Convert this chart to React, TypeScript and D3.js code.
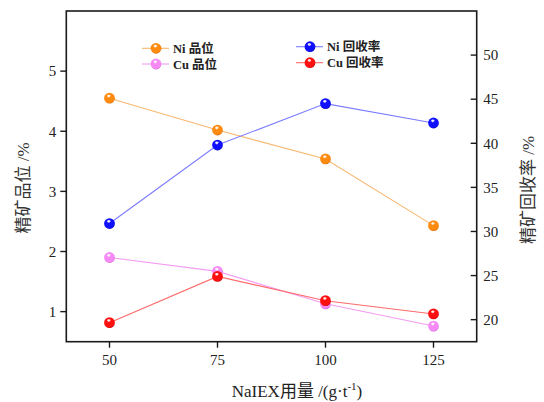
import React from "react";
import * as d3 from "d3";

const doses = [50, 75, 100, 125];
const niGrade = [4.55, 4.02, 3.54, 2.43];
const cuGrade = [1.9, 1.67, 1.13, 0.76];
const niRecovery = [30.9, 39.8, 44.5, 42.3];
const cuRecovery = [19.66, 24.9, 22.15, 20.65];
const leftTicks = [1, 2, 3, 4, 5];
const rightTicks = [20, 25, 30, 35, 40, 45, 50];

const W = 544, H = 402;
const M = { l: 66.3, r: 476.7, t: 11, b: 341.7 };
const FONT = '"Liberation Serif", "Noto Sans CJK SC", serif';

const x = d3.scaleLinear().domain([40, 135]).range([M.l, M.r]);
const yL = d3.scaleLinear().domain([0.5, 6]).range([M.b, M.t]);
const yR = d3.scaleLinear().domain([17.5, 55]).range([M.b, M.t]);

type Series = { name: string; vals: number[]; y: d3.ScaleLinear<number, number>; color: string; dark: string; line: string; id: string };

const series: Series[] = [
  { name: "Ni 品位", vals: niGrade, y: yL, color: "#ff8a10", dark: "#c05a00", line: "#f7b870", id: "g-or" },
  { name: "Cu 品位", vals: cuGrade, y: yL, color: "#f58af5", dark: "#c050c8", line: "#f39cf3", id: "g-pk" },
  { name: "Ni 回收率", vals: niRecovery, y: yR, color: "#1010ff", dark: "#00008a", line: "#7b7bff", id: "g-bl" },
  { name: "Cu 回收率", vals: cuRecovery, y: yR, color: "#ff1010", dark: "#a00000", line: "#ff6b6b", id: "g-rd" },
];

const legendPos = [
  { x1: 142, x2: 169, cx: 156, tx: 173, y: 48.3 },
  { x1: 142, x2: 169, cx: 156, tx: 173, y: 64 },
  { x1: 296, x2: 323, cx: 310, tx: 327, y: 46.7 },
  { x1: 296, x2: 323, cx: 310, tx: 327, y: 62.7 },
];

const R = 5.4;

function Ball({ cx, cy, s }: { cx: number; cy: number; s: Series }) {
  return (
    <g>
      <circle cx={cx} cy={cy} r={R} fill={`url(#${s.id})`} />
      <ellipse cx={cx - 0.6} cy={cy - 2.4} rx={1.8} ry={1.1} fill="#fff" opacity={0.75} />
    </g>
  );
}

export default function App() {
  const line = (s: Series) =>
    d3.line<number>().x((_, i) => x(doses[i])).y((v) => s.y(v))(s.vals) || "";
  return (
    <svg width={W} height={H} fontFamily={FONT} style={{ position: "absolute", left: 0, top: 0, background: "#fff" }}>
      <defs>
        {series.map((s) => (
          <radialGradient key={s.id} id={s.id} cx="0.45" cy="0.4" r="0.65" fx="0.42" fy="0.3">
            <stop offset="0" stopColor="#ffffff" stopOpacity={0.9} />
            <stop offset="0.25" stopColor={s.color} />
            <stop offset="0.8" stopColor={s.color} />
            <stop offset="1" stopColor={s.dark} />
          </radialGradient>
        ))}
      </defs>
      <rect x={0} y={0} width={W} height={H} fill="#fff" />

      {series.map((s) => (
        <path key={s.id} d={line(s)} fill="none" stroke={s.line} strokeWidth={1.1} />
      ))}
      {series.map((s) =>
        s.vals.map((v, i) => <Ball key={s.id + i} cx={x(doses[i])} cy={s.y(v)} s={s} />)
      )}

      <rect x={M.l} y={M.t} width={M.r - M.l} height={M.b - M.t} fill="none" stroke="#1a1a1a" strokeWidth={1.6} />

      {leftTicks.map((t) => (
        <g key={"l" + t}>
          <line x1={M.l - 6} x2={M.l} y1={yL(t)} y2={yL(t)} stroke="#1a1a1a" strokeWidth={1.4} />
          <text x={M.l - 10} y={yL(t)} dy="0.35em" textAnchor="end" fontSize={15} fill="#222">{t}</text>
        </g>
      ))}
      {rightTicks.map((t) => (
        <g key={"r" + t}>
          <line x1={M.r - 6} x2={M.r} y1={yR(t)} y2={yR(t)} stroke="#1a1a1a" strokeWidth={1.4} />
          <text x={M.r + 6.5} y={yR(t)} dy="0.35em" textAnchor="start" fontSize={15} fill="#222">{t}</text>
        </g>
      ))}
      {doses.map((t) => (
        <g key={"b" + t}>
          <line x1={x(t)} x2={x(t)} y1={M.b} y2={M.b + 6} stroke="#1a1a1a" strokeWidth={1.4} />
          <text x={x(t)} y={365} textAnchor="middle" fontSize={15} fill="#222">{t}</text>
        </g>
      ))}

      <text x={297} y={397} textAnchor="middle" fontSize={17} fill="#222">
        NaIEX用量 /(g·t<tspan dy={-7} fontSize={11}>-1</tspan><tspan dy={7}>)</tspan>
      </text>
      <text transform="translate(29,188) rotate(-90)" textAnchor="middle" fontSize={17} fill="#333">精矿品位 /%</text>
      <text transform="translate(534,190) rotate(-90)" textAnchor="middle" fontSize={17} fill="#333">精矿回收率 /%</text>

      {series.map((s, i) => {
        const p = legendPos[i];
        return (
          <g key={"lg" + s.id}>
            <line x1={p.x1} x2={p.x2} y1={p.y} y2={p.y} stroke={s.line} strokeWidth={1.1} />
            <Ball cx={p.cx} cy={p.y} s={s} />
            <text x={p.tx} y={p.y} dy="0.36em" fontSize={12.5} fontWeight="bold" fill="#222">{s.name}</text>
          </g>
        );
      })}
    </svg>
  );
}
